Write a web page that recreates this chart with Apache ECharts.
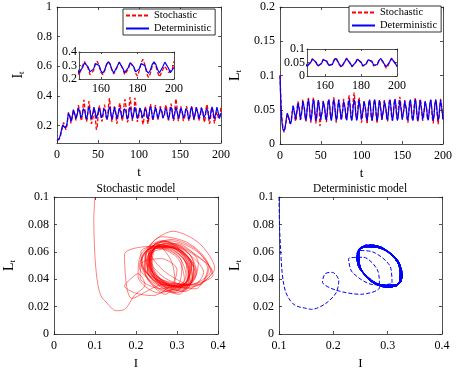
<!DOCTYPE html>
<html><head><meta charset="utf-8">
<script src="https://cdn.jsdelivr.net/npm/echarts@6/dist/echarts.min.js"></script>
<style>html,body{margin:0;padding:0;background:#fff}#c{width:461px;height:369px}</style>
</head><body><div id="c"></div>
<script>
// time grid (finer at the start)
const T = [0,0.5,1,1.5,2,2.5,3,3.5,4,4.5,5,6,7,8,9,10,11,12,13,14,15,16,17,18,19,20,21,22,23,24,25,26,27,28,29,30,31,32,33,34,35,36,37,38,39,40,41,42,43,44,45,46,47,48,49,50,51,52,53,54,55,56,57,58,59,60,61,62,63,64,65,66,67,68,69,70,71,72,73,74,75,76,77,78,79,80,81,82,83,84,85,86,87,88,89,90,91,92,93,94,95,96,97,98,99,100,101,102,103,104,105,106,107,108,109,110,111,112,113,114,115,116,117,118,119,120,121,122,123,124,125,126,127,128,129,130,131,132,133,134,135,136,137,138,139,140,141,142,143,144,145,146,147,148,149,150,151,152,153,154,155,156,157,158,159,160,161,162,163,164,165,166,167,168,169,170,171,172,173,174,175,176,177,178,179,180,181,182,183,184,185,186,187,188,189,190,191,192,193,194,195,196,197,198,199,200];

// deterministic I_t
const I_det = [
0.100,0.101,0.103,0.105,0.108,0.112,0.118,0.126,0.135,0.147,0.160,0.185,0.205,0.210,0.198,0.185,0.180,0.205,0.250,0.285,0.282,0.255,0.228,0.235,0.275,0.308,0.305,0.272,0.245,0.248,
0.285,0.320,0.323,0.290,0.253,0.245,0.275,0.314,0.326,0.300,0.260,0.243,0.265,0.305,0.327,0.310,0.270,0.244,0.256,0.295,0.325,0.317,0.280,0.247,0.250,
0.285,0.320,0.323,0.290,0.253,0.245,0.275,0.314,0.326,0.300,0.260,0.243,0.265,0.305,0.327,0.310,0.270,0.244,0.256,0.295,0.325,0.317,0.280,0.247,0.250,
0.285,0.320,0.323,0.290,0.253,0.245,0.275,0.314,0.326,0.300,0.260,0.243,0.265,0.305,0.327,0.310,0.270,0.244,0.256,0.295,0.325,0.317,0.280,0.247,0.250,
0.285,0.320,0.323,0.290,0.253,0.245,0.275,0.314,0.326,0.300,0.260,0.243,0.265,0.305,0.327,0.310,0.270,0.244,0.256,0.295,0.325,0.317,0.280,0.247,0.250,
0.285,0.320,0.323,0.290,0.253,0.245,0.275,0.314,0.326,0.300,0.260,0.243,0.265,0.305,0.327,0.310,0.270,0.244,0.256,0.295,0.325,0.317,0.280,0.247,0.250,
0.285,0.320,0.323,0.290,0.253,0.245,0.275,0.314,0.326,0.300,0.260,0.243,0.265,0.305,0.327,0.310,0.270,0.244,0.256,0.295,0.325,0.317,0.280,0.247,0.250,
0.285,0.320,0.323,0.290,0.253,0.245,0.275,0.314,0.326,0.300,0.260,0.243,0.265,0.305,0.327,0.310,0.270,0.244,0.256,0.295,0.325,0.317,0.280,0.247,0.250,
0.285];

// deterministic L_t
const L_det = [
0.100,0.078,0.062,0.048,0.038,0.031,0.026,0.022,0.020,0.019,0.018,0.022,0.030,0.039,0.045,0.044,0.038,0.032,0.029,0.034,0.046,0.056,0.055,0.045,0.036,0.037,0.049,0.060,0.061,0.049,
0.0356,0.0363,0.0493,0.0625,0.0636,0.0517,0.0377,0.0347,0.0454,0.0599,0.0648,0.0554,0.0406,0.0340,0.0418,0.0568,0.0650,0.0588,0.0440,0.0343,0.0387,0.0531,0.0642,0.0616,0.0478,
0.0356,0.0363,0.0493,0.0625,0.0636,0.0517,0.0377,0.0347,0.0454,0.0599,0.0648,0.0554,0.0406,0.0340,0.0418,0.0568,0.0650,0.0588,0.0440,0.0343,0.0387,0.0531,0.0642,0.0616,0.0478,
0.0356,0.0363,0.0493,0.0625,0.0636,0.0517,0.0377,0.0347,0.0454,0.0599,0.0648,0.0554,0.0406,0.0340,0.0418,0.0568,0.0650,0.0588,0.0440,0.0343,0.0387,0.0531,0.0642,0.0616,0.0478,
0.0356,0.0363,0.0493,0.0625,0.0636,0.0517,0.0377,0.0347,0.0454,0.0599,0.0648,0.0554,0.0406,0.0340,0.0418,0.0568,0.0650,0.0588,0.0440,0.0343,0.0387,0.0531,0.0642,0.0616,0.0478,
0.0356,0.0363,0.0493,0.0625,0.0636,0.0517,0.0377,0.0347,0.0454,0.0599,0.0648,0.0554,0.0406,0.0340,0.0418,0.0568,0.0650,0.0588,0.0440,0.0343,0.0387,0.0531,0.0642,0.0616,0.0478,
0.0356,0.0363,0.0493,0.0625,0.0636,0.0517,0.0377,0.0347,0.0454,0.0599,0.0648,0.0554,0.0406,0.0340,0.0418,0.0568,0.0650,0.0588,0.0440,0.0343,0.0387,0.0531,0.0642,0.0616,0.0478,
0.0356,0.0363,0.0493,0.0625,0.0636,0.0517,0.0377,0.0347,0.0454,0.0599,0.0648,0.0554,0.0406,0.0340,0.0418,0.0568,0.0650,0.0588,0.0440,0.0343,0.0387,0.0531,0.0642,0.0616,0.0478,
0.0356];

// stochastic I_t
const I_sto = [
0.100,0.097,0.098,0.100,0.103,0.107,0.112,0.118,0.125,0.137,0.150,0.172,0.196,0.222,0.205,0.186,0.172,0.198,0.240,0.290,0.300,0.262,0.215,0.210,0.262,0.305,0.312,0.268,0.235,0.240,
0.290,0.338,0.340,0.297,0.248,0.232,0.276,0.345,0.375,0.312,0.255,0.228,0.250,0.318,0.365,0.322,0.262,0.212,0.205,0.255,0.318,0.300,0.238,0.172,0.190,
0.262,0.318,0.335,0.292,0.245,0.228,0.262,0.320,0.342,0.305,0.258,0.235,0.275,0.345,0.386,0.330,0.268,0.225,0.232,0.290,0.330,0.315,0.262,0.212,0.222,
0.292,0.338,0.352,0.300,0.248,0.232,0.285,0.355,0.378,0.330,0.262,0.222,0.248,0.330,0.392,0.355,0.290,0.232,0.238,0.300,0.388,0.350,0.282,0.225,0.222,
0.270,0.322,0.330,0.285,0.230,0.208,0.245,0.305,0.330,0.292,0.240,0.212,0.245,0.310,0.345,0.318,0.262,0.232,0.245,0.298,0.338,0.325,0.275,0.238,0.245,
0.290,0.332,0.335,0.292,0.250,0.238,0.270,0.322,0.340,0.305,0.255,0.235,0.262,0.318,0.348,0.325,0.268,0.232,0.248,0.330,0.382,0.345,0.285,0.230,0.232,
0.300,0.330,0.322,0.278,0.232,0.220,0.262,0.315,0.332,0.298,0.250,0.232,0.258,0.305,0.330,0.312,0.268,0.238,0.245,0.292,0.325,0.318,0.275,0.232,0.228,
0.275,0.322,0.335,0.290,0.242,0.222,0.262,0.322,0.345,0.308,0.245,0.212,0.238,0.292,0.322,0.300,0.250,0.215,0.228,0.272,0.295,0.285,0.248,0.235,0.268,
0.330];

// stochastic L_t
const L_sto = [
0.100,0.083,0.070,0.056,0.045,0.036,0.030,0.026,0.024,0.020,0.017,0.018,0.028,0.036,0.044,0.040,0.035,0.030,0.028,0.037,0.047,0.055,0.052,0.041,0.033,0.037,0.052,0.062,0.058,0.045,
0.035,0.038,0.052,0.065,0.063,0.050,0.037,0.033,0.048,0.064,0.067,0.054,0.039,0.031,0.045,0.060,0.068,0.058,0.042,0.030,0.040,0.056,0.064,0.058,0.026,
0.036,0.037,0.050,0.063,0.062,0.049,0.037,0.032,0.048,0.062,0.065,0.054,0.040,0.035,0.046,0.060,0.068,0.058,0.043,0.031,0.041,0.055,0.065,0.060,0.046,
0.035,0.038,0.052,0.066,0.064,0.050,0.037,0.036,0.049,0.066,0.071,0.057,0.040,0.034,0.048,0.066,0.075,0.062,0.044,0.035,0.043,0.060,0.068,0.060,0.046,
0.031,0.038,0.051,0.063,0.062,0.049,0.037,0.029,0.047,0.061,0.064,0.052,0.039,0.034,0.044,0.058,0.065,0.057,0.042,0.030,0.040,0.055,0.064,0.060,0.046,
0.035,0.037,0.051,0.064,0.063,0.050,0.037,0.033,0.048,0.062,0.065,0.053,0.039,0.034,0.045,0.060,0.066,0.057,0.042,0.036,0.046,0.062,0.069,0.060,0.045,
0.036,0.038,0.052,0.064,0.062,0.049,0.036,0.031,0.047,0.062,0.064,0.053,0.038,0.034,0.044,0.060,0.068,0.057,0.041,0.032,0.040,0.055,0.066,0.060,0.045,
0.034,0.037,0.051,0.063,0.062,0.049,0.036,0.035,0.047,0.061,0.064,0.052,0.037,0.030,0.043,0.058,0.064,0.056,0.040,0.029,0.038,0.054,0.066,0.060,0.046,
0.035];

// tick labels
const ticksTL_Y = [0.2,0.4,0.6,0.8,1];
const ticksInsetX = [160,180,200];
const ticksInsetI = [0.2,0.3,0.4];
const ticksInsetL = [0,0.05,0.1];
const legendNames = ['Stochastic','Deterministic'];
const titles = ['Stochastic model','Deterministic model'];

const FONT = 'Liberation Serif';
const AX = '#262626';
const RED = '#ff0000', BLUE = '#0000ff';

const xAxis = [], yAxis = [];
function mkAxis(gi, o, pos, main) {
  const a = {
    type: 'value', gridIndex: gi, position: pos, min: o.min, max: o.max,
    splitLine: {show: false},
    axisLine: {show: true, onZero: false, lineStyle: {color: AX, width: 0.8}},
    axisTick: {show: true, inside: true, length: o.tl || 3, lineStyle: {color: AX, width: 0.8}},
    axisLabel: {show: main, fontFamily: FONT, fontSize: o.fs || 12, color: '#000', margin: o.margin != null ? o.margin : 5,
                showMinLabel: true, showMaxLabel: true, hideOverlap: false}
  };
  if (o.interval != null) a.interval = o.interval;
  if (o.ticks) { a.axisTick.customValues = o.ticks.slice(); a.axisLabel.customValues = o.ticks.slice(); }
  if (main && o.name) {
    a.name = o.name; a.nameLocation = 'middle'; a.nameGap = o.nameGap;
    a.nameRotate = o.nameRotate || 0; a.nameTextStyle = o.nameStyle;
  }
  return a;
}
function addAxes(gi, xo, yo) {
  const xi = xAxis.length, yi = yAxis.length;
  xAxis.push(mkAxis(gi, xo, 'bottom', true), mkAxis(gi, xo, 'top', false));
  yAxis.push(mkAxis(gi, yo, 'left', true), mkAxis(gi, yo, 'right', false));
  return [xi, yi];
}
const xName = {fontFamily: FONT, fontSize: 13, color: '#000'};
function subName() {
  return {color: '#000', fontFamily: FONT, rich: {
    m: {fontFamily: FONT, fontSize: 14, color: '#000'},
    s: {fontFamily: FONT, fontSize: 9, color: '#000', verticalAlign: 'bottom', padding: [6, 0, 0, 0]}
  }};
}

const grids = [
  {left: 57, top: 7, width: 164, height: 136},
  {left: 280, top: 7, width: 163, height: 137},
  {left: 54, top: 197, width: 164, height: 137},
  {left: 279, top: 197, width: 163, height: 137},
  {left: 79, top: 52, width: 95, height: 27, show: true, backgroundColor: '#fff', borderWidth: 0},
  {left: 307, top: 49, width: 90, height: 27, show: true, backgroundColor: '#fff', borderWidth: 0}
].map(g => Object.assign({outerBoundsMode: 'none', containLabel: false}, g));

const a0 = addAxes(0, {min: 0, max: 200, interval: 50, margin: 6, name: 't', nameGap: 23, nameStyle: xName},
                      {min: 0.083, max: 1, ticks: ticksTL_Y, name: '{m|I}{s|t}', nameGap: 31, nameRotate: 90, nameStyle: subName()});
const a1 = addAxes(1, {min: 0, max: 200, interval: 50, margin: 6, name: 't', nameGap: 23, nameStyle: xName},
                      {min: 0, max: 0.2, interval: 0.05, name: '{m|L}{s|t}', nameGap: 37, nameRotate: 90, nameStyle: subName()});
const a2 = addAxes(2, {min: 0, max: 0.4, interval: 0.1, margin: 6, name: 'I', nameGap: 23, nameStyle: xName},
                      {min: 0, max: 0.1, interval: 0.02, name: '{m|L}{s|t}', nameGap: 37, nameRotate: 90, nameStyle: subName()});
const a3 = addAxes(3, {min: 0.1, max: 0.4, interval: 0.1, margin: 6, name: 'I', nameGap: 23, nameStyle: xName},
                      {min: 0, max: 0.1, interval: 0.02, name: '{m|L}{s|t}', nameGap: 36, nameRotate: 90, nameStyle: subName()});
const a4 = addAxes(4, {min: 148, max: 200, ticks: ticksInsetX, tl: 2, margin: 4},
                      {min: 0.2, max: 0.4, ticks: ticksInsetI, tl: 2, margin: 2});
const a5 = addAxes(5, {min: 150, max: 200, ticks: ticksInsetX, tl: 2, margin: 4},
                      {min: 0, max: 0.1, ticks: ticksInsetL, tl: 2, margin: 2});

function pairs(xs, ys, from) {
  const out = [];
  for (let i = from || 0; i < xs.length; i++) out.push([xs[i], ys[i]]);
  return out;
}
function tsLine(name, ax, data, color, dashed, w) {
  return {name, type: 'line', xAxisIndex: ax[0], yAxisIndex: ax[1], data, symbol: 'none',
    clip: true, animation: false,
    lineStyle: {color, width: w || 1.2, type: dashed ? [4, 2] : 'solid'}, itemStyle: {color}};
}
const insetFrom = T.indexOf(146);

const series = [
  tsLine('Stochastic', a0, pairs(T, I_sto), RED, true, 1.3),
  tsLine('Deterministic', a0, pairs(T, I_det), BLUE, false, 1.2),
  tsLine('Stochastic', a1, pairs(T, L_sto), RED, true, 1.3),
  tsLine('Deterministic', a1, pairs(T, L_det), BLUE, false, 1.2),
  tsLine('inset I sto', a4, pairs(T, I_sto, insetFrom), RED, true, 1.3),
  tsLine('inset I det', a4, pairs(T, I_det, insetFrom), BLUE, false, 1.2),
  tsLine('inset L sto', a5, pairs(T, L_sto, insetFrom), RED, true, 1.3),
  tsLine('inset L det', a5, pairs(T, L_det, insetFrom), BLUE, false, 1.2),
  Object.assign(tsLine('phase sto', a2, pairs(I_sto, L_sto), RED, false, 0.5), {smooth: 0.3}),
  Object.assign(tsLine('phase det', a3, pairs(I_det, L_det), BLUE, true, 1.0), {smooth: 0.3})
];

function legendAt(left, top) {
  return {left, top, orient: 'vertical', data: legendNames.map(n => ({name: n, textStyle: {fontFamily: FONT, fontSize: 10.5, color: '#000'}})),
    selectedMode: false,
    itemWidth: 23, itemHeight: 8, itemGap: 2, padding: [1, 4, 1, 2],
    itemStyle: {opacity: 0, borderWidth: 0},
    backgroundColor: '#fff', borderColor: '#000', borderWidth: 0.8, borderRadius: 0,
    textStyle: {fontFamily: FONT, fontSize: 10.5, color: '#000'}};
}

const option = {
  animation: false,
  backgroundColor: '#fff',
  textStyle: {fontFamily: FONT},
  grid: grids, xAxis, yAxis, series,
  legend: [legendAt(123, 9), legendAt(349, 6)],
  graphic: [
    {type: 'text', x: 136, y: 189, style: {text: titles[0], font: '11.5px "Liberation Serif"', fill: '#000', align: 'center', verticalAlign: 'middle'}},
    {type: 'text', x: 360, y: 189, style: {text: titles[1], font: '11.5px "Liberation Serif"', fill: '#000', align: 'center', verticalAlign: 'middle'}}
  ]
};
const chart = echarts.init(document.getElementById('c'), null, {renderer: 'canvas'});
chart.setOption(option);
</script>
</body></html>
